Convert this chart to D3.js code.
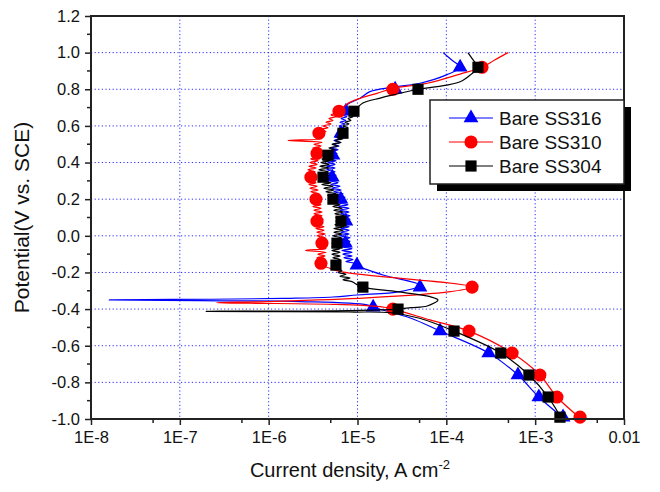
<!DOCTYPE html>
<html>
<head>
<meta charset="utf-8">
<script src="https://cdn.jsdelivr.net/npm/d3@7"></script>
<style>
  html, body { margin: 0; padding: 0; background: #ffffff; }
  svg { display: block; font-family: "Liberation Sans", Arial, sans-serif; }
</style>
</head>
<body>
<svg id="chart" width="660" height="492"></svg>
<script>
// ---------------- data ----------------
const xTickValues = [1e-8, 1e-7, 1e-6, 1e-5, 1e-4, 1e-3, 1e-2];
const xTickLabels = ["1E-8", "1E-7", "1E-6", "1E-5", "1E-4", "1E-3", "0.01"];
const xMinorTicks = [5e-8, 5e-7, 5e-6, 5e-5, 5e-4, 5e-3];
const yTickValues = [-1.0, -0.8, -0.6, -0.4, -0.2, 0.0, 0.2, 0.4, 0.6, 0.8, 1.0, 1.2];
const yTickLabels = ["-1.0", "-0.8", "-0.6", "-0.4", "-0.2", "0.0", "0.2", "0.4", "0.6", "0.8", "1.0", "1.2"];
const yMinorTicks = [-0.9, -0.7, -0.5, -0.3, -0.1, 0.1, 0.3, 0.5, 0.7, 0.9, 1.1];
const seriesNames = ["Bare SS316", "Bare SS310", "Bare SS304"];

// [potential (V vs SCE), current density (A cm^-2)]
const ss316Curve = [
  [1.00, 9.2e-5], [0.96, 1.15e-4], [0.92, 1.43e-4], [0.88, 1.02e-4], [0.833, 5.05e-5], [0.812, 2.6e-5],
  [0.787, 1.38e-5], [0.751, 1.07e-5], [0.714, 7.6e-6], [0.68, 7.2e-6],
  [0.67, 7.42e-6], [0.66, 6.69e-6], [0.65, 7.61e-6], [0.64, 6.52e-6], [0.63, 7.42e-6], [0.62, 6.35e-6],
  [0.61, 7.23e-6], [0.60, 6.19e-6], [0.59, 7.04e-6], [0.58, 6.03e-6], [0.57, 6.86e-6], [0.56, 5.87e-6],
  [0.55, 6.69e-6], [0.54, 5.57e-6], [0.53, 6.52e-6], [0.52, 5.43e-6], [0.51, 6.35e-6], [0.50, 5.29e-6],
  [0.49, 6.19e-6], [0.48, 5.03e-6], [0.47, 6.03e-6], [0.46, 4.90e-6], [0.45, 5.87e-6], [0.44, 4.77e-6],
  [0.43, 5.72e-6], [0.42, 4.65e-6], [0.41, 5.72e-6], [0.40, 4.65e-6], [0.39, 5.57e-6], [0.38, 4.53e-6],
  [0.37, 5.57e-6], [0.36, 4.53e-6], [0.35, 5.57e-6], [0.34, 4.65e-6], [0.33, 5.72e-6], [0.32, 4.77e-6],
  [0.31, 5.87e-6], [0.30, 4.90e-6], [0.29, 6.03e-6], [0.28, 5.03e-6], [0.27, 6.35e-6], [0.26, 5.16e-6],
  [0.25, 6.52e-6], [0.24, 5.43e-6], [0.23, 6.86e-6], [0.22, 5.72e-6], [0.21, 7.23e-6], [0.20, 5.87e-6],
  [0.19, 7.42e-6], [0.18, 6.03e-6], [0.17, 7.81e-6], [0.16, 6.19e-6], [0.15, 8.02e-6], [0.14, 6.35e-6],
  [0.13, 8.02e-6], [0.12, 6.52e-6], [0.11, 8.23e-6], [0.10, 6.52e-6], [0.09, 8.23e-6], [0.08, 6.69e-6],
  [0.07, 8.23e-6], [0.06, 6.69e-6], [0.05, 8.02e-6], [0.04, 6.52e-6], [0.03, 8.02e-6], [0.02, 6.52e-6],
  [0.01, 8.02e-6], [0.00, 6.35e-6], [-0.01, 8.23e-6], [-0.02, 6.52e-6], [-0.03, 8.23e-6], [-0.04, 6.52e-6],
  [-0.05, 8.44e-6], [-0.06, 6.69e-6], [-0.07, 8.66e-6], [-0.08, 6.69e-6], [-0.09, 8.66e-6], [-0.10, 6.86e-6],
  [-0.11, 8.66e-6], [-0.12, 7.04e-6], [-0.13, 8.89e-6], [-0.14, 7.42e-6], [-0.15, 9.12e-6], [-0.16, 9.6e-6],
  [-0.214, 1.94e-5], [-0.27, 5.05e-5], [-0.305, 3.0e-5], [-0.323, 9.9e-6], [-0.334, 5.3e-6],
  [-0.341, 1.75e-6], [-0.345, 4.0e-7], [-0.350, 1.6e-8], [-0.354, 1.7e-7], [-0.359, 2.25e-6],
  [-0.377, 1.28e-5], [-0.39, 1.5e-5], [-0.45, 4.0e-5], [-0.52, 8.5e-5], [-0.64, 3.0e-4],
  [-0.76, 6.4e-4], [-0.88, 1.1e-3], [-1.00, 2.15e-3]
];
const ss316Markers = [
  [0.92, 1.43e-4], [0.80, 2.65e-5], [0.68, 7.4e-6], [0.56, 6.5e-6], [0.44, 5.3e-6], [0.32, 5.2e-6],
  [0.20, 6.5e-6], [0.08, 7.4e-6], [-0.04, 7.3e-6], [-0.16, 9.86e-6], [-0.28, 5.05e-5], [-0.39, 1.5e-5],
  [-0.52, 8.5e-5], [-0.64, 3.0e-4], [-0.76, 6.4e-4], [-0.88, 1.1e-3], [-0.99, 2.06e-3]
];

const ss310Curve = [
  [1.00, 4.95e-4], [0.96, 3.5e-4], [0.92, 2.52e-4], [0.883, 1.43e-4], [0.833, 6.1e-5], [0.805, 2.5e-5],
  [0.778, 1.66e-5], [0.751, 1.07e-5], [0.723, 7.8e-6], [0.68, 6.2e-6],
  [0.67, 5.72e-6], [0.66, 5.03e-6], [0.65, 5.72e-6], [0.64, 4.77e-6], [0.63, 5.29e-6], [0.62, 4.42e-6],
  [0.61, 5.03e-6], [0.60, 4.09e-6], [0.59, 4.65e-6], [0.58, 3.78e-6], [0.57, 4.42e-6], [0.56, 3.59e-6],
  [0.55, 4.19e-6], [0.54, 3.41e-6], [0.53, 3.98e-6], [0.52, 1.65e-6], [0.51, 3.98e-6], [0.50, 3.24e-6],
  [0.49, 3.88e-6], [0.48, 3.15e-6], [0.47, 3.78e-6], [0.46, 3.07e-6], [0.45, 3.78e-6], [0.44, 3.07e-6],
  [0.43, 3.68e-6], [0.42, 2.99e-6], [0.41, 3.59e-6], [0.40, 2.92e-6], [0.39, 3.50e-6], [0.38, 2.85e-6],
  [0.37, 3.41e-6], [0.36, 2.77e-6], [0.35, 3.32e-6], [0.34, 2.70e-6], [0.33, 3.32e-6], [0.32, 2.70e-6],
  [0.31, 3.32e-6], [0.30, 2.77e-6], [0.29, 3.41e-6], [0.28, 2.85e-6], [0.27, 3.50e-6], [0.26, 2.92e-6],
  [0.25, 3.59e-6], [0.24, 2.99e-6], [0.23, 3.68e-6], [0.22, 3.07e-6], [0.21, 3.78e-6], [0.20, 3.07e-6],
  [0.19, 3.78e-6], [0.18, 3.15e-6], [0.17, 3.88e-6], [0.16, 3.15e-6], [0.15, 3.88e-6], [0.14, 3.24e-6],
  [0.13, 3.98e-6], [0.12, 3.24e-6], [0.11, 3.98e-6], [0.10, 3.32e-6], [0.09, 4.09e-6], [0.08, 3.32e-6],
  [0.07, 4.09e-6], [0.06, 3.41e-6], [0.05, 4.19e-6], [0.04, 3.41e-6], [0.03, 4.19e-6], [0.02, 3.50e-6],
  [0.01, 4.31e-6], [0.00, 3.50e-6], [-0.01, 4.31e-6], [-0.02, 3.59e-6], [-0.03, 4.42e-6], [-0.04, 3.59e-6],
  [-0.05, 4.42e-6], [-0.06, 3.59e-6], [-0.07, 4.42e-6], [-0.08, 2.60e-6], [-0.09, 4.42e-6], [-0.10, 3.59e-6],
  [-0.11, 4.31e-6], [-0.12, 3.50e-6], [-0.13, 4.31e-6], [-0.14, 3.50e-6], [-0.15, 4.19e-6], [-0.16, 3.59e-6],
  [-0.17, 4.42e-6], [-0.197, 6.69e-6], [-0.28, 1.95e-4], [-0.305, 1.1e-4], [-0.339, 1.28e-5],
  [-0.359, 9.6e-7], [-0.365, 2.6e-7], [-0.368, 6.2e-7], [-0.374, 5.3e-6], [-0.387, 1.8e-5],
  [-0.40, 2.5e-5], [-0.459, 6.55e-5], [-0.52, 1.8e-4], [-0.64, 5.5e-4], [-0.76, 1.13e-3],
  [-0.88, 1.76e-3], [-1.00, 3.3e-3]
];
const ss310Markers = [
  [0.92, 2.52e-4], [0.80, 2.5e-5], [0.68, 6.19e-6], [0.56, 3.68e-6], [0.45, 3.5e-6], [0.32, 2.99e-6],
  [0.20, 3.41e-6], [0.08, 3.5e-6], [-0.04, 3.98e-6], [-0.15, 3.88e-6], [-0.28, 1.95e-4], [-0.40, 2.5e-5],
  [-0.52, 1.8e-4], [-0.64, 5.5e-4], [-0.76, 1.13e-3], [-0.88, 1.76e-3], [-0.99, 3.2e-3]
];

const ss304Curve = [
  [1.00, 1.75e-4], [0.96, 2.0e-4], [0.92, 2.27e-4], [0.88, 1.88e-4], [0.841, 1.43e-4], [0.814, 7.9e-5],
  [0.80, 4.8e-5], [0.769, 2.5e-5], [0.752, 1.8e-5], [0.725, 1.15e-5], [0.70, 1.0e-5], [0.68, 9.1e-6],
  [0.67, 8.89e-6], [0.66, 8.23e-6], [0.65, 8.89e-6], [0.64, 7.81e-6], [0.63, 8.44e-6], [0.62, 7.23e-6],
  [0.61, 8.02e-6], [0.60, 6.86e-6], [0.59, 7.81e-6], [0.58, 6.52e-6], [0.57, 7.42e-6], [0.56, 6.35e-6],
  [0.55, 7.23e-6], [0.54, 5.87e-6], [0.53, 6.86e-6], [0.52, 5.57e-6], [0.51, 6.52e-6], [0.50, 5.16e-6],
  [0.49, 6.03e-6], [0.48, 4.77e-6], [0.47, 5.57e-6], [0.46, 4.42e-6], [0.45, 5.29e-6], [0.44, 4.19e-6],
  [0.43, 5.03e-6], [0.42, 3.98e-6], [0.41, 4.90e-6], [0.40, 3.88e-6], [0.39, 4.77e-6], [0.38, 3.78e-6],
  [0.37, 4.77e-6], [0.36, 3.68e-6], [0.35, 4.65e-6], [0.34, 3.78e-6], [0.33, 4.77e-6], [0.32, 3.68e-6],
  [0.31, 4.77e-6], [0.30, 3.88e-6], [0.29, 5.03e-6], [0.28, 3.98e-6], [0.27, 5.29e-6], [0.26, 4.19e-6],
  [0.25, 5.43e-6], [0.24, 4.42e-6], [0.23, 5.72e-6], [0.22, 4.65e-6], [0.21, 5.87e-6], [0.20, 4.77e-6],
  [0.19, 6.03e-6], [0.18, 5.03e-6], [0.17, 6.35e-6], [0.16, 5.29e-6], [0.15, 6.69e-6], [0.14, 5.43e-6],
  [0.13, 6.86e-6], [0.12, 5.57e-6], [0.11, 7.04e-6], [0.10, 5.72e-6], [0.09, 7.23e-6], [0.08, 5.72e-6],
  [0.07, 7.04e-6], [0.06, 5.57e-6], [0.05, 7.04e-6], [0.04, 5.43e-6], [0.03, 6.86e-6], [0.02, 5.43e-6],
  [0.01, 6.69e-6], [0.00, 5.29e-6], [-0.01, 6.52e-6], [-0.02, 5.29e-6], [-0.03, 6.52e-6], [-0.04, 5.16e-6],
  [-0.05, 6.35e-6], [-0.06, 5.16e-6], [-0.07, 6.35e-6], [-0.08, 5.16e-6], [-0.09, 6.35e-6], [-0.10, 5.16e-6],
  [-0.11, 6.35e-6], [-0.12, 5.29e-6], [-0.13, 6.35e-6], [-0.14, 5.29e-6], [-0.15, 6.19e-6], [-0.16, 5.43e-6],
  [-0.17, 6.35e-6], [-0.18, 5.72e-6], [-0.19, 6.69e-6], [-0.20, 6.03e-6], [-0.21, 7.42e-6], [-0.22, 6.35e-6],
  [-0.23, 8.23e-6], [-0.24, 6.86e-6], [-0.25, 8.66e-6], [-0.26, 9.36e-6], [-0.28, 1.15e-5],
  [-0.305, 2.8e-5], [-0.332, 6.55e-5], [-0.35, 8.05e-5], [-0.383, 6.1e-5], [-0.392, 4.0e-5],
  [-0.40, 2.86e-5], [-0.408, 8.0e-6], [-0.413, 1.97e-7], [-0.416, 8.0e-6], [-0.42, 2.4e-5],
  [-0.45, 5.0e-5], [-0.52, 1.22e-4], [-0.64, 4.1e-4], [-0.76, 8.5e-4], [-0.88, 1.4e-3], [-1.00, 2.0e-3]
];
const ss304Markers = [
  [0.92, 2.27e-4], [0.80, 4.8e-5], [0.68, 9.12e-6], [0.56, 6.86e-6], [0.44, 4.65e-6], [0.32, 4.09e-6],
  [0.20, 5.29e-6], [0.08, 6.52e-6], [-0.04, 5.87e-6], [-0.16, 5.72e-6], [-0.28, 1.15e-5], [-0.40, 2.86e-5],
  [-0.52, 1.22e-4], [-0.64, 4.1e-4], [-0.76, 8.5e-4], [-0.88, 1.4e-3], [-0.99, 1.9e-3]
];

// ---------------- layout ----------------
(function () {
const svg = d3.select("#chart");
const pL = 91, pR = 624, pT = 16, pB = 419;
const x = d3.scaleLog().domain([1e-8, 1e-2]).range([pL, pR]);
const y = d3.scaleLinear().domain([-1.0, 1.2]).range([pB, pT]);
const FONT = "'Liberation Sans', Arial, sans-serif";

// grid
const grid = svg.append("g");
grid.selectAll(".gx").data(xTickValues.slice(1, -1)).enter().append("line")
  .attr("x1", d => x(d)).attr("x2", d => x(d)).attr("y1", pT).attr("y2", pB)
  .attr("stroke", "#2b2bff").attr("stroke-width", 1).attr("stroke-dasharray", "1.2,2.4");
grid.selectAll(".gy").data(yTickValues.slice(1, -1)).enter().append("line")
  .attr("y1", d => y(d)).attr("y2", d => y(d)).attr("x1", pL).attr("x2", pR)
  .attr("stroke", "#2b2bff").attr("stroke-width", 1).attr("stroke-dasharray", "1.2,2.4");

// series
svg.append("clipPath").attr("id", "plotclip").append("rect")
  .attr("x", pL).attr("y", pT - 8).attr("width", pR - pL).attr("height", pB - pT + 16);

const line = d3.line().x(d => x(d[1])).y(d => y(d[0])).curve(d3.curveCatmullRom.alpha(0.5));

const series = [
  { curve: ss316Curve, markers: ss316Markers, color: "#0000ff", sym: d3.symbolTriangle, size: 95 },
  { curve: ss310Curve, markers: ss310Markers, color: "#ff0000", sym: d3.symbolCircle, size: 135 },
  { curve: ss304Curve, markers: ss304Markers, color: "#000000", sym: d3.symbolSquare, size: 125 }
];

const plot = svg.append("g").attr("clip-path", "url(#plotclip)");
series.forEach(s => {
  plot.append("path").datum(s.curve).attr("d", line)
    .attr("fill", "none").attr("stroke", s.color).attr("stroke-width", 1.2).attr("stroke-linejoin", "round");
  plot.selectAll(null).data(s.markers).enter().append("path")
    .attr("d", d3.symbol().type(s.sym).size(s.size))
    .attr("transform", d => `translate(${x(d[1])},${y(d[0])})`)
    .attr("fill", s.color);
});

// frame
svg.append("rect").attr("x", pL).attr("y", pT).attr("width", pR - pL).attr("height", pB - pT)
  .attr("fill", "none").attr("stroke", "#222").attr("stroke-width", 2);

// axes
const xAxis = d3.axisBottom(x).tickValues(xTickValues)
  .tickFormat((d, i) => xTickLabels[i]).tickSize(6).tickPadding(6);
const gx = svg.append("g").attr("transform", `translate(0,${pB})`).call(xAxis);
gx.select(".domain").remove();
gx.selectAll(".tick line").attr("stroke", "#222").attr("stroke-width", 1.5);
gx.selectAll("text").attr("font-family", FONT).attr("font-size", 16.5).attr("fill", "#111");
gx.selectAll(".minor").data(xMinorTicks).enter().append("line")
  .attr("x1", d => x(d)).attr("x2", d => x(d)).attr("y1", 0).attr("y2", 4)
  .attr("stroke", "#222").attr("stroke-width", 1.5);

const yAxis = d3.axisLeft(y).tickValues(yTickValues)
  .tickFormat((d, i) => yTickLabels[i]).tickSize(6).tickPadding(5);
const gy = svg.append("g").attr("transform", `translate(${pL},0)`).call(yAxis);
gy.select(".domain").remove();
gy.selectAll(".tick line").attr("stroke", "#222").attr("stroke-width", 1.5);
gy.selectAll("text").attr("font-family", FONT).attr("font-size", 16.5).attr("fill", "#111");
gy.selectAll(".minor").data(yMinorTicks).enter().append("line")
  .attr("y1", d => y(d)).attr("y2", d => y(d)).attr("x1", 0).attr("x2", -4)
  .attr("stroke", "#222").attr("stroke-width", 1.5);

// axis titles
const xt = svg.append("text").attr("x", 350).attr("y", 477)
  .attr("text-anchor", "middle").attr("font-family", FONT).attr("font-size", 20).attr("fill", "#111");
xt.append("tspan").text("Current density, A cm");
xt.append("tspan").attr("dy", -8).attr("font-size", 13).text("-2");

svg.append("text").attr("transform", `translate(29,${(pT + pB) / 2}) rotate(-90)`)
  .attr("text-anchor", "middle").attr("font-family", FONT).attr("font-size", 21).attr("fill", "#111")
  .text("Potential(V vs. SCE)");

// legend
const lg = svg.append("g");
lg.append("rect").attr("x", 437).attr("y", 107).attr("width", 194).attr("height", 84).attr("fill", "#000");
lg.append("rect").attr("x", 430).attr("y", 100).attr("width", 194).attr("height", 84)
  .attr("fill", "#fff").attr("stroke", "#222").attr("stroke-width", 1.5);
const rowsY = [118, 142, 166];
series.forEach((s, i) => {
  lg.append("line").attr("x1", 449).attr("x2", 493).attr("y1", rowsY[i]).attr("y2", rowsY[i])
    .attr("stroke", s.color).attr("stroke-width", 1.2);
  lg.append("path").attr("d", d3.symbol().type(s.sym).size(s.size))
    .attr("transform", `translate(471,${rowsY[i]})`).attr("fill", s.color);
  lg.append("text").attr("x", 499).attr("y", rowsY[i]).attr("dy", "0.36em")
    .attr("font-family", FONT).attr("font-size", 19).attr("fill", "#111").text(seriesNames[i]);
});
})();
</script>
</body>
</html>
